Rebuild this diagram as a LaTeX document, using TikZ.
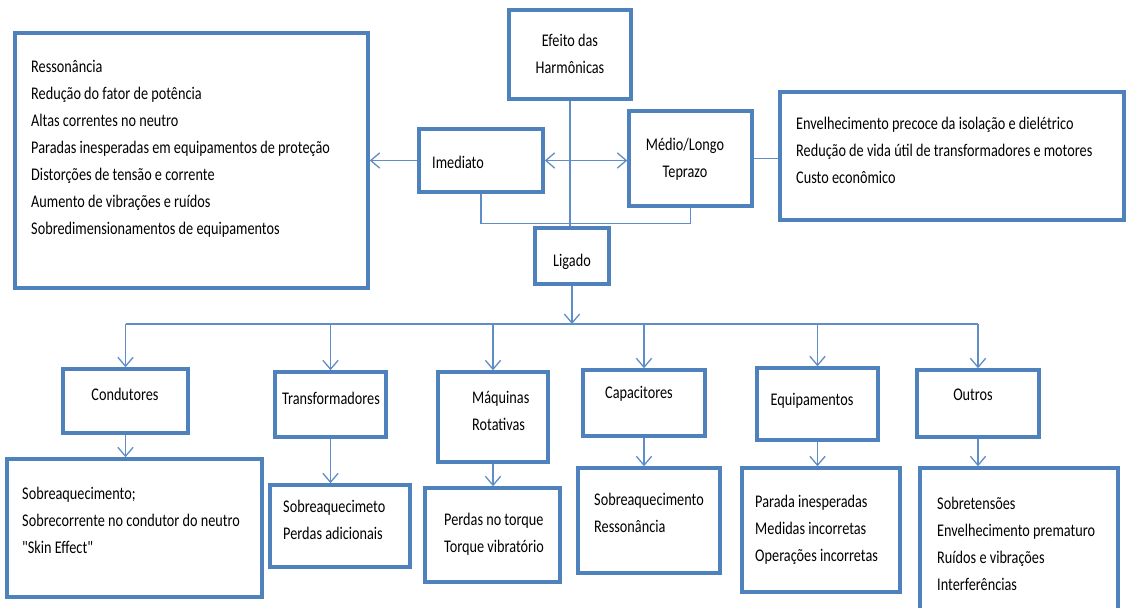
\documentclass[tikz,border=0pt]{standalone}
\usepackage{fontspec}
\setmainfont[FakeStretch=0.8, Ligatures=TeXOff]{Carlito}
\usetikzlibrary{arrows.meta}
\definecolor{boxblue}{HTML}{4F81BD}
\definecolor{lineblue}{HTML}{5E8DC8}
\tikzset{
  box/.style 2 args={draw=boxblue, line width=3pt, minimum width=#1*0.03cm, minimum height=#2*0.03cm, inner sep=0pt},
  txt/.style={align=left, inner sep=0pt, font=\fontsize{15.2}{23}\selectfont},
  link/.style={draw=lineblue, line width=1.1pt},
  arr/.style={link, -{Straight Barb[length=2.7mm,width=4.6mm]}}
}
\begin{document}
\begin{tikzpicture}[x=0.03cm, y=-0.03cm]
        \useasboundingbox (0,0) rectangle (1127,607);
        \fill[white] (0,0) rectangle (1127,607);
        % boxes
        \node[box={353}{255}] (left) at (191.5,160.5) {};
        \node[box={344}{128}] (right) at (952,156) {};
        \node[box={122}{89}] (eff) at (570,54.5) {};
        \node[box={124}{63}] (imed) at (481,160.5) {};
        \node[box={123}{95}] (med) at (690.5,158.5) {};
        \node[box={74}{56}] (lig) at (572,256) {};
        \node[box={125}{64}] (cond) at (125.5,401) {};
        \node[box={111}{65}] (trans) at (330.5,404.5) {};
        \node[box={110}{90}] (maq) at (493,417) {};
        \node[box={122}{66}] (cap) at (644,403) {};
        \node[box={121}{72}] (equ) at (817.5,404) {};
        \node[box={122}{67}] (out) at (978,403.5) {};
        \node[box={255}{138}] (cond-d) at (134.5,528) {};
        \node[box={140}{82}] (trans-d) at (340,526) {};
        \node[box={135}{94}] (maq-d) at (492.5,535) {};
        \node[box={142}{105}] (cap-d) at (649,520.5) {};
        \node[box={158}{124}] (equ-d) at (821,530) {};
        \node[box={198}{147}] (out-d) at (1019,541.5) {};
        % texts
        \node[txt, anchor=west] (leftT) at (31,148.5) {Ressonância\\Redução do fator de potência\\Altas correntes no neutro\\Paradas inesperadas em equipamentos de proteção\\Distorções de tensão e corrente\\Aumento de vibrações e ruídos\\Sobredimensionamentos de equipamentos};
        \node[txt, anchor=west] (rightT) at (796,150) {Envelhecimento precoce da isolação e dielétrico\\Redução de vida útil de transformadores e motores\\Custo econômico};
        \node[txt, align=center] (effT) at (570,54) {Efeito das\\Harmônicas};
        \node[txt, anchor=west] (imedT) at (432,162) {Imediato};
        \node[txt, align=center] (medT) at (685,159) {Médio/Longo\\Teprazo};
        \node[txt] (ligT) at (572,262) {Ligado};
        \node[txt] (condT) at (125,394) {Condutores};
        \node[txt] (transT) at (331,398) {Transformadores};
        \node[txt, anchor=west] (maqT) at (472,411) {Máquinas\\Rotativas};
        \node[txt] (capT) at (639,394) {Capacitores};
        \node[txt] (equT) at (812,401) {Equipamentos};
        \node[txt] (outT) at (973,395) {Outros};
        \node[txt, anchor=west] (cond-dT) at (22,520.5) {Sobreaquecimento;\\Sobrecorrente no condutor do neutro\\"Skin Effect"};
        \node[txt, anchor=west] (trans-dT) at (283,520) {Sobreaquecimeto\\Perdas adicionais};
        \node[txt, anchor=west] (maq-dT) at (444,534.5) {Perdas no torque\\Torque vibratório};
        \node[txt, anchor=west] (cap-dT) at (594,512.5) {Sobreaquecimento\\Ressonância};
        \node[txt, anchor=west] (equ-dT) at (755,530) {Parada inesperadas\\Medidas incorretas\\Operações incorretas};
        \node[txt, anchor=west] (out-dT) at (937,543.5) {Sobretensões\\Envelhecimento prematuro\\Ruídos e vibrações\\Interferências};
        % connectors
        \coordinate (j) at (eff.south |- imed.east);
        \coordinate (bus) at (lig.south |- 0,324);
        \draw[link] (eff.south) -- (eff.south |- lig.north);
        \draw[arr] (j) -- (imed.east);
        \draw[arr] (j) -- (j -| med.west);
        \draw[arr] (imed.west) -- (imed.west -| left.east);
        \draw[link] (med.east) -- (med.east -| right.west);
        \draw[link] (imed.south) -- ++(0,30) -| (med.south);
        \draw[arr] (lig.south) -- (bus);
        \draw[link] (cond.north |- bus) -- (out.north |- bus);
        \foreach \b in {cond,trans,maq,cap,equ,out} {
          \draw[arr] (\b.north |- bus) -- (\b.north);
          \draw[arr] (\b.south) -- (\b.south |- \b-d.north);
        }
    \end{tikzpicture}
\end{document}
